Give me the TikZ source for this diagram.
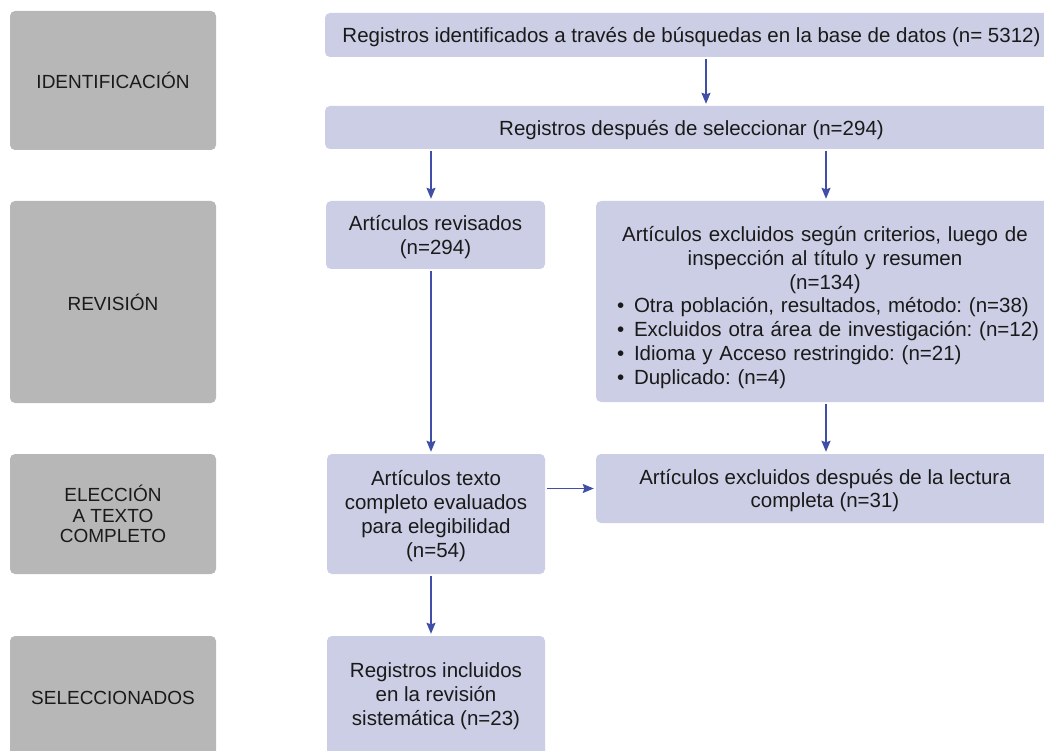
\documentclass[tikz,border=0pt]{standalone}
\usepackage{fontspec}
\setmainfont{Liberation Sans}
\usetikzlibrary{arrows.meta}
\definecolor{graybox}{HTML}{B7B7B7}
\definecolor{bluebox}{HTML}{CBCEE4}
\definecolor{arrowblue}{HTML}{3F4FA8}
\definecolor{txtdark}{HTML}{1A1A1A}
\newcommand{\bul}{\hspace*{12pt}\makebox[17pt][l]{\textbullet}}
\frenchspacing
\begin{document}
\begin{tikzpicture}[x=1pt,y=-1pt,
    stage/.style={rectangle,rounded corners=5pt,fill=graybox,text=txtdark,align=center,
      font=\fontsize{19}{20.5}\selectfont,minimum width=206pt,inner sep=0pt},
    blbox/.style={rectangle,rounded corners=5pt,fill=bluebox,text=txtdark,align=center,
      font=\fontsize{20.5}{23.8}\selectfont,inner sep=0pt,text depth=0pt},
    flow/.style={draw=arrowblue,line width=1.3pt,shorten <=2pt,shorten >=2pt,
      -{Stealth[length=11pt,width=9pt,inset=1.5pt]}}]
      \useasboundingbox (0,0) rectangle (1044,751);
      \clip (0,0) rectangle (1044,751);

      \node[stage,minimum height=139pt] (ident) at (113,80.5) {IDENTIFICACIÓN};
      \node[stage,minimum height=202pt] (revis) at (113,302) {REVISIÓN};
      \node[stage,minimum height=120pt] (elecc) at (113,514) {ELECCIÓN\\ A TEXTO\\ COMPLETO};
      \node[stage,minimum height=124pt] (selec) at (113,698) {SELECCIONADOS};

      \node[blbox,minimum width=733pt,minimum height=44pt] (busq) at (691.5,35)
        {Registros identificados a través de búsquedas en la base de datos (n= 5312)};
      \node[blbox,minimum width=733pt,minimum height=43pt] (selc) at (691.5,127.5)
        {Registros después de seleccionar (n=294)};
      \node[blbox,minimum width=219pt,minimum height=68pt] (revs) at (435.5,235)
        {Artículos revisados\\(n=294)};
      \node[blbox,minimum width=458pt,minimum height=201pt,text width=440pt,text depth=] (excl) at (825,301.5)
        {\centering\rule{0pt}{27pt}Artículos excluidos según criterios, luego de\\
         inspección al título y resumen\\
         (n=134)\par
         \raggedright
         \bul Otra población, resultados, método: (n=38)\\
         \bul Excluidos otra área de investigación: (n=12)\\
         \bul Idioma y Acceso restringido: (n=21)\\
         \bul Duplicado: (n=4)\par};
      \node[blbox,minimum width=218pt,minimum height=120pt] (texto) at (436,514)
        {Artículos texto\\completo evaluados\\para elegibilidad\\(n=54)};
      \node[blbox,minimum width=458pt,minimum height=69pt] (lect) at (825,488.5)
        {Artículos excluidos después de la lectura\\completa (n=31)};
      \node[blbox,minimum width=218pt,minimum height=124pt,text depth=8pt] (incl) at (436,698)
        {Registros incluidos\\en la revisión\\sistemática (n=23)};

      \coordinate (colT) at (706,0);
      \coordinate (colA) at (431,0);
      \coordinate (colB) at (826,0);

      \draw[flow] (busq.south -| colT) -- (selc.north -| colT);
      \draw[flow] (selc.south -| colA) -- (revs.north -| colA);
      \draw[flow] (selc.south -| colB) -- (excl.north -| colB);
      \draw[flow] (revs.south -| colA) -- (texto.north -| colA);
      \draw[flow] (excl.south -| colB) -- (lect.north -| colB);
      \draw[flow] (texto.east |- lect.west) -- (lect.west);
      \draw[flow] (texto.south -| colA) -- (incl.north -| colA);
    \end{tikzpicture}
\end{document}
